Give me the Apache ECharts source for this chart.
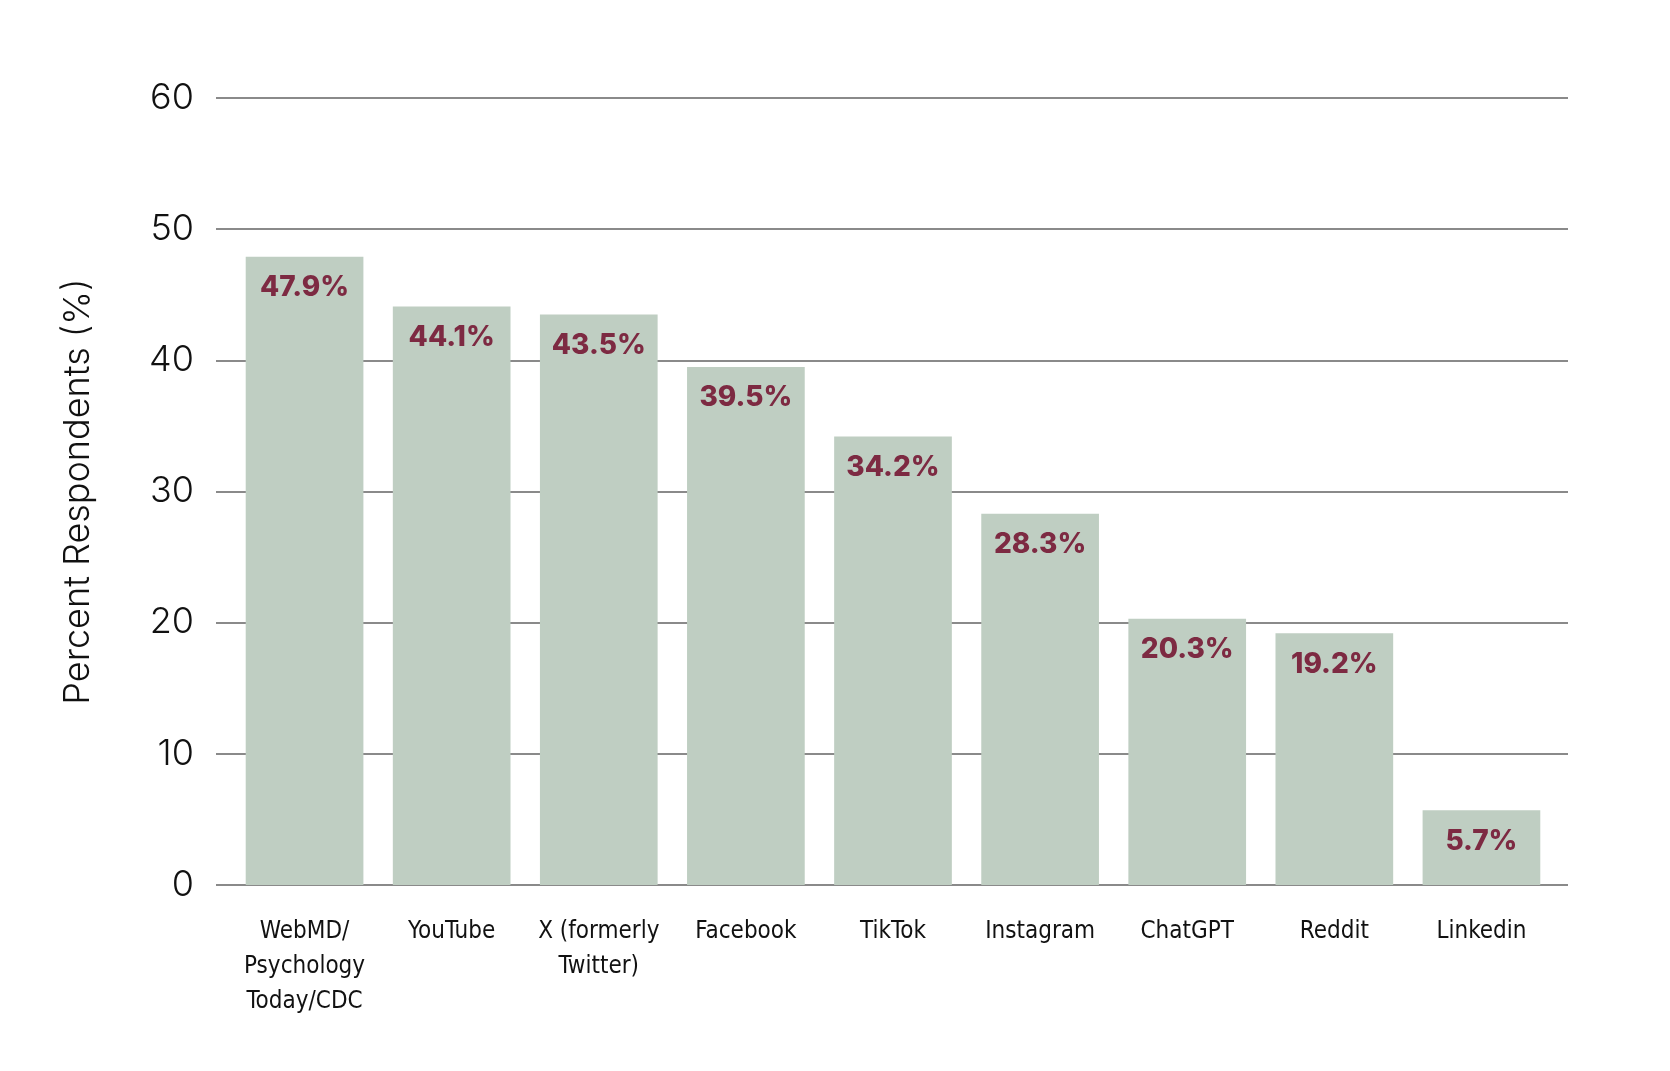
<!DOCTYPE html>
<html>
<head>
<meta charset="utf-8">
<script src="https://cdn.jsdelivr.net/npm/echarts@6/dist/echarts.min.js"></script>
<style>
html,body{margin:0;padding:0;background:#fff;}
#chart{width:1670px;height:1071px;}
</style>
</head>
<body>
<div id="chart"></div>
<script>
const categories = ["WebMD/\nPsychology\nToday/CDC", "YouTube", "X (formerly\nTwitter)", "Facebook", "TikTok", "Instagram", "ChatGPT", "Reddit", "Linkedin"];
const values = [47.9, 44.1, 43.5, 39.5, 34.2, 28.3, 20.3, 19.2, 5.7];
const yTicks = { min: 0, max: 60, interval: 10 };
const yName = "Percent Respondents (%)";

const chart = echarts.init(document.getElementById('chart'), null, { renderer: 'canvas' });
const condensed = "'Liberation Sans Narrow', 'DejaVu Sans Condensed', 'Roboto', sans-serif";
chart.setOption({
  backgroundColor: '#ffffff',
  animation: false,
  grid: [
    { left: 216, right: 102, top: 98, bottom: 186 },
    { left: 231, right: 115, top: 98, bottom: 186 }
  ],
  xAxis: [
    { type: 'category', gridIndex: 0, data: [''], show: false },
    {
      type: 'category', gridIndex: 1, data: categories,
      axisLine: { show: false }, axisTick: { show: false },
      axisLabel: { color: '#111', fontSize: 24, lineHeight: 35, margin: 29, fontFamily: condensed, interval: 0 }
    }
  ],
  yAxis: [
    {
      type: 'value', gridIndex: 0, min: yTicks.min, max: yTicks.max, interval: yTicks.interval,
      name: yName, nameLocation: 'middle', nameGap: 120, nameRotate: 90,
      nameTextStyle: { fontSize: 36, color: '#111', fontWeight: 300, fontFamily: "'Inter', 'Roboto', sans-serif" },
      axisLine: { show: false }, axisTick: { show: false },
      axisLabel: { fontSize: 36, color: '#111', fontWeight: 300, margin: 22, fontFamily: "'Inter', 'Roboto', sans-serif" },
      splitLine: { show: true, lineStyle: { color: '#8a8a8a', width: 2 } }
    },
    {
      type: 'value', gridIndex: 1, min: yTicks.min, max: yTicks.max, interval: yTicks.interval,
      show: false, splitLine: { show: false }
    }
  ],
  series: [{
    type: 'bar', xAxisIndex: 1, yAxisIndex: 1, data: values,
    barWidth: '80%',
    itemStyle: { color: '#bfcec2' },
    label: {
      show: true, position: 'insideTop', distance: 17,
      formatter: p => p.value + '%',
      color: '#7d2a42', fontSize: 28, fontWeight: 800,
      fontFamily: "'Inter', 'Lato', sans-serif"
    }
  }]
});
</script>
</body>
</html>
